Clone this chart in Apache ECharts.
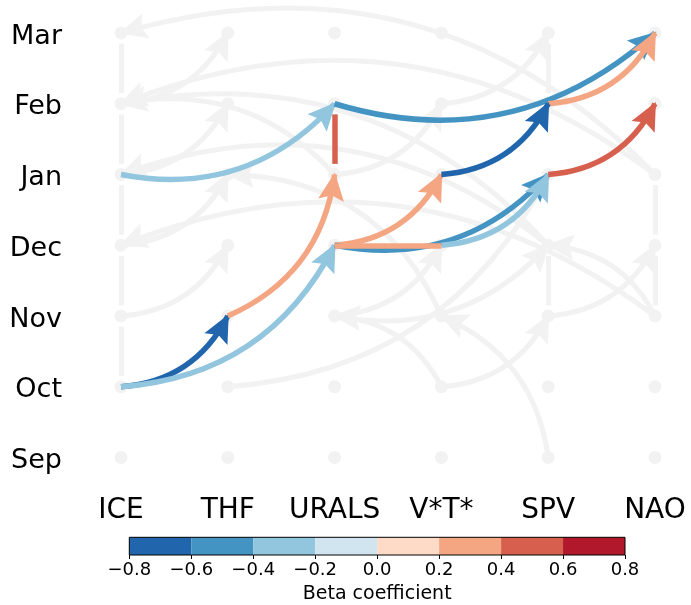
<!DOCTYPE html>
<html><head><meta charset="utf-8">
<script src="https://cdn.jsdelivr.net/npm/echarts@6/dist/echarts.min.js"></script>
<style>html,body{margin:0;padding:0;background:#fff}#c{width:691px;height:605px}</style>
</head><body><div id="c"></div>
<script>
// ---------------- data ----------------
const variables = ['ICE', 'THF', 'URALS', 'V*T*', 'SPV', 'NAO'];
const months = ['Sep', 'Oct', 'Nov', 'Dec', 'Jan', 'Feb', 'Mar'];

// background (grey) lagged links: [fromVar, fromMonth, toVar, toMonth]
const greyLagLinks = [
  [5, 4, 0, 6], [5, 4, 0, 5], [4, 3, 0, 5], [2, 4, 0, 5], [4, 3, 0, 4], [5, 2, 0, 3],
  [0, 5, 1, 6], [0, 4, 1, 5], [0, 3, 1, 4], [0, 2, 1, 3],
  [3, 2, 1, 4], [2, 4, 3, 5], [3, 5, 4, 6], [4, 2, 5, 3], [5, 2, 4, 3],
  [2, 2, 4, 3], [2, 2, 3, 3], [3, 1, 2, 2], [3, 1, 4, 2], [4, 0, 3, 2], [1, 1, 4, 4]
];
// background auto links (same variable, consecutive months): [var, fromMonth, toMonth]
const greyAutoLinks = [
  [0, 1, 2], [0, 2, 3], [0, 3, 4], [0, 4, 5], [0, 5, 6],
  [4, 2, 3], [4, 5, 6], [5, 2, 3], [5, 3, 4]
];
// pathway lagged links: [fromVar, fromMonth, toVar, toMonth, beta]
const pathLagLinks = [
  [0, 1, 1, 2, -0.7], [0, 1, 2, 3, -0.3], [1, 2, 2, 4, 0.3], [0, 4, 2, 5, -0.3],
  [2, 5, 5, 6, -0.5], [4, 5, 5, 6, 0.3], [2, 3, 3, 4, 0.3], [2, 3, 4, 4, -0.5],
  [3, 3, 4, 4, -0.3], [3, 4, 4, 5, -0.7], [4, 4, 5, 5, 0.5]
];
// pathway auto link: [var, fromMonth, toMonth, beta]
const pathAutoLinks = [[2, 4, 5, 0.5]];
// pathway contemporaneous link: [fromVar, toVar, month, beta]
const pathContempLinks = [[2, 3, 3, 0.3]];

// colour bar
const colorbarEdges = [-0.8, -0.6, -0.4, -0.2, 0.0, 0.2, 0.4, 0.6, 0.8];
const colorbarColors = ['#2166ac', '#4393c3', '#92c5de', '#d1e5f0', '#fddbc7', '#f4a582', '#d6604d', '#b2182b'];

// ---------------- style ----------------
const GREY = '#f2f2f2';
const FONT = 'DejaVu Sans';
const CURVE = -0.28;
// a few long background arcs bend a little more
const greyCurveStyle = {0: -0.30, 10: -0.32};
const GAP = 0.15;
const ARROW = 'path://M0 0 L0 0.01 M52 0 L52 0.01 M26 24 L39 52 L26 47 L13 52 Z';
const ARROW_SIZE = 52;

function betaColor(b) {
  for (let i = 0; i < colorbarColors.length; i++) {
    if (b >= colorbarEdges[i] && b < colorbarEdges[i + 1]) return colorbarColors[i];
  }
  return colorbarColors[colorbarColors.length - 1];
}

const nodes = [];
variables.forEach((v, vi) => months.forEach((m, mi) => nodes.push([vi, mi])));

const greyLagData = greyLagLinks.map((l, i) => {
  const d = {coords: [[l[0], l[1]], [l[2], l[3]]]};
  if (greyCurveStyle[i] !== undefined) d.lineStyle = {curveness: greyCurveStyle[i]};
  return d;
});
const greyAutoData = greyAutoLinks.map(l => ({coords: [[l[0], l[1] + GAP], [l[0], l[2] - GAP]]}));
const pathLagData = pathLagLinks.map(l => ({coords: [[l[0], l[1]], [l[2], l[3]]], lineStyle: {color: betaColor(l[4])}}));
const pathFlatData = pathAutoLinks.map(l => ({coords: [[l[0], l[1] + GAP], [l[0], l[2] - GAP]], lineStyle: {color: betaColor(l[3])}}))
  .concat(pathContempLinks.map(l => ({coords: [[l[0], l[2]], [l[1], l[2]]], lineStyle: {color: betaColor(l[3])}})));

function linesSeries(data, color, width, arrow, z, curve) {
  return {
    type: 'lines', coordinateSystem: 'cartesian2d', xAxisIndex: 0, yAxisIndex: 0,
    polyline: false, silent: true, z: z, animation: false, clip: false,
    symbol: arrow ? ['none', ARROW] : ['none', 'none'], symbolSize: [1, ARROW_SIZE],
    lineStyle: {color: color, width: width, opacity: 1, curveness: curve, cap: 'butt'},
    emphasis: {disabled: true},
    data: data
  };
}

const chart = echarts.init(document.getElementById('c'), null, {renderer: 'canvas'});
chart.setOption({
  animation: false,
  backgroundColor: '#ffffff',
  textStyle: {fontFamily: FONT},
  grid: [
    {left: 121, right: 36, top: 33, bottom: 147.5},
    {left: 129.3, width: 495.7, top: 537.3, height: 17.7, show: true, borderColor: '#000', borderWidth: 1, backgroundColor: 'transparent', z: 10}
  ],
  xAxis: [
    {gridIndex: 0, type: 'value', min: 0, max: 5, interval: 1,
     axisLine: {show: false}, axisTick: {show: false}, splitLine: {show: false},
     axisLabel: {formatter: v => variables[Math.round(v)], fontSize: 28, color: '#000', margin: 39, fontFamily: FONT}},
    {gridIndex: 1, type: 'value', min: -0.8, max: 0.8, interval: 0.2,
     axisLine: {show: false}, axisTick: {show: true, length: 4, lineStyle: {color: '#000', width: 1}}, splitLine: {show: false},
     axisLabel: {formatter: v => { const r = Math.round(v * 10) / 10; return (r < 0 ? '\u2212' : '') + Math.abs(r).toFixed(1); },
                 fontSize: 18, color: '#000', margin: 6, fontFamily: FONT},
     name: 'Beta coefficient', nameLocation: 'middle', nameGap: 30,
     nameTextStyle: {fontSize: 19, color: '#000', fontFamily: FONT}}
  ],
  yAxis: [
    {gridIndex: 0, type: 'value', min: 0, max: 6, interval: 1,
     axisLine: {show: false}, axisTick: {show: false}, splitLine: {show: false},
     axisLabel: {formatter: v => '{m|' + months[Math.round(v)] + '}', margin: 59,
                 rich: {m: {fontSize: 27, color: '#000', fontFamily: FONT, padding: [7, 0, 0, 0]}}}},
    {gridIndex: 1, type: 'value', min: 0, max: 1, show: false}
  ],
  series: [
    {type: 'scatter', xAxisIndex: 0, yAxisIndex: 0, data: nodes, symbolSize: 13, silent: true, z: 1, clip: false,
     itemStyle: {color: GREY, opacity: 1}, emphasis: {disabled: true}},
    linesSeries(greyAutoData, GREY, 5, false, 2, 0),
    linesSeries(greyLagData, GREY, 5, true, 2, CURVE),
    linesSeries(pathLagData, '#000', 5.5, true, 3, CURVE),
    linesSeries(pathFlatData, '#000', 5.5, false, 3, 0),
    {type: 'custom', xAxisIndex: 1, yAxisIndex: 1, silent: true, z: 2,
     data: colorbarColors.map((c, i) => [colorbarEdges[i], colorbarEdges[i + 1], i]),
     renderItem: (params, api) => {
       const p0 = api.coord([api.value(0), 1]);
       const p1 = api.coord([api.value(1), 0]);
       return {type: 'rect', shape: {x: p0[0], y: p0[1], width: p1[0] - p0[0], height: p1[1] - p0[1]},
               style: {fill: colorbarColors[api.value(2)]}};
     }}
  ]
});
</script></body></html>
